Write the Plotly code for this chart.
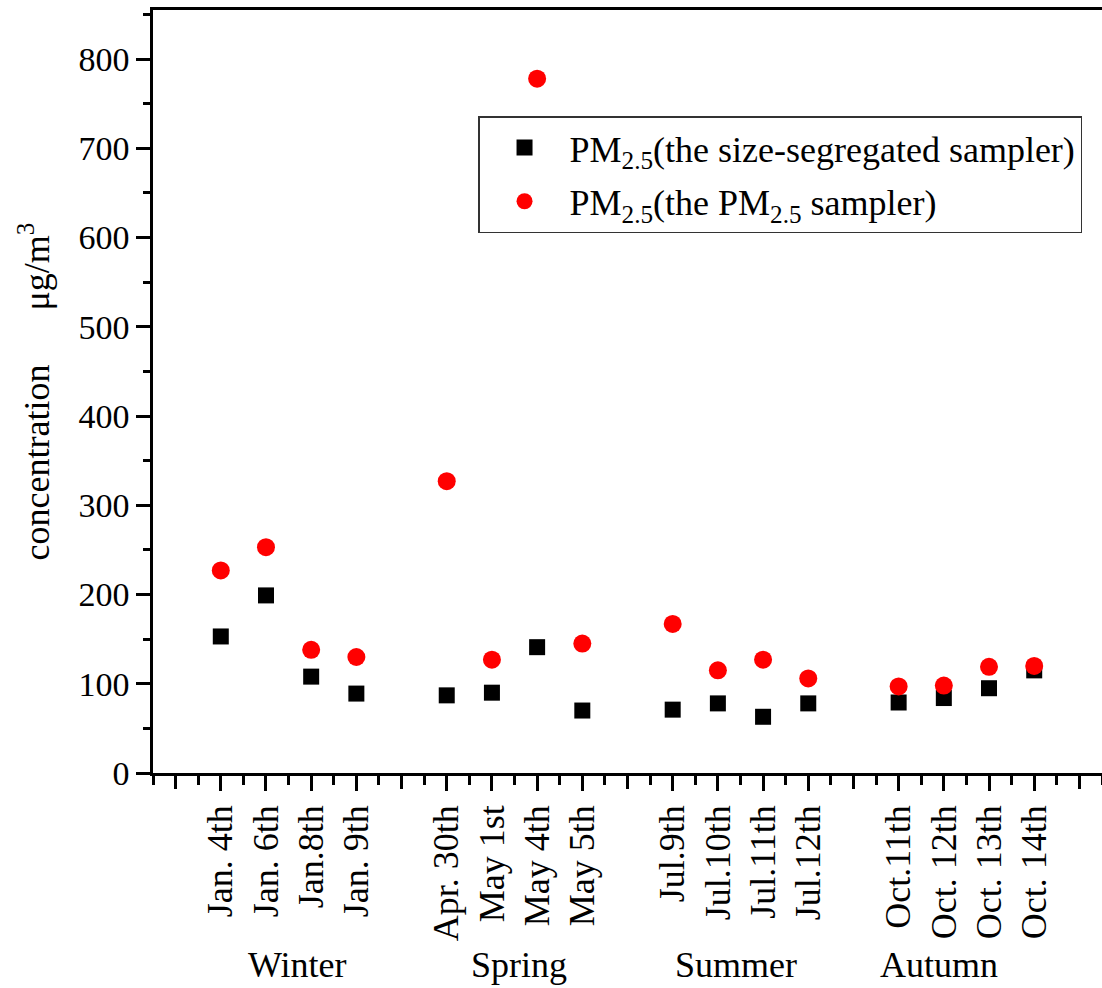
import plotly.graph_objects as go

# ---- data ----
seasons = ["Winter", "Spring", "Summer", "Autumn"]
dates = [
    ["Jan. 4th", "Jan. 6th", "Jan.8th", "Jan. 9th"],
    ["Apr. 30th", "May 1st", "May 4th", "May 5th"],
    ["Jul.9th", "Jul.10th", "Jul.11th", "Jul.12th"],
    ["Oct.11th", "Oct. 12th", "Oct. 13th", "Oct. 14th"],
]
size_segregated = [153, 199, 108, 89, 87, 90, 141, 70, 71, 78, 63, 78, 79, 84, 95, 115]
pm25_sampler = [227, 253, 138, 130, 327, 127, 778, 145, 167, 115, 127, 106, 97, 98, 119, 120]
y_ticks = [0, 100, 200, 300, 400, 500, 600, 700, 800]

# category positions: one empty slot between seasons
labels, xpos, season_centers = [], [], []
pos = 1
for g, grp in enumerate(dates):
    start = pos
    for d in grp:
        labels.append(d)
        xpos.append(pos)
        pos += 1
    season_centers.append((start + pos - 1) / 2)
    pos += 1

all_major = list(range(0, 21))
empty_major = [v for v in all_major if v not in xpos]

FONT = "Liberation Serif"
fig = go.Figure()
fig.add_trace(go.Scatter(
    x=xpos, y=size_segregated, mode="markers",
    name="PM<sub>2.5</sub>(the size-segregated sampler)", legendgroup="a",
    marker=dict(symbol="square", size=16, color="black"),
))
fig.add_trace(go.Scatter(
    x=xpos, y=pm25_sampler, mode="markers",
    name="PM<sub>2.5</sub>(the PM<sub>2.5</sub> sampler)", legendgroup="b",
    marker=dict(symbol="circle", size=18, color="#ff0000"),
))
# helper (empty) trace so the overlay axis with the unlabeled long ticks is drawn
fig.add_trace(go.Scatter(x=[], y=[], xaxis="x2", yaxis="y", showlegend=False,
                         hoverinfo="skip"))

season_offsets = [0.19, 0.1, -0.1, -0.6]
for s, c, o in zip(seasons, season_centers, season_offsets):
    fig.add_annotation(x=c + o, y=-0.2515, xref="x", yref="paper", text=s,
                       showarrow=False, yanchor="middle",
                       font=dict(family=FONT, size=36, color="black"))

fig.update_layout(
    width=1102, height=988,
    margin=dict(l=153, r=0, t=10, b=215),
    paper_bgcolor="white", plot_bgcolor="white",
    font=dict(family=FONT, size=34, color="black"),
    showlegend=True,
    legend=dict(x=0.3425, y=0.861, xanchor="left", yanchor="top",
                bgcolor="white", bordercolor="#333333", borderwidth=1.5,
                font=dict(family=FONT, size=36, color="black"),
                itemwidth=80, traceorder="grouped", tracegroupgap=4),
    xaxis2=dict(overlaying="x", anchor="y", side="bottom", range=[-0.5, 20.5],
                tickmode="array", tickvals=empty_major, showticklabels=False,
                ticks="outside", ticklen=15, tickwidth=2.5, tickcolor="black",
                showline=False, showgrid=False, zeroline=False),
)
fig.layout.xaxis.update(
    range=[-0.5, 20.5], tickmode="array", tickvals=xpos, ticktext=labels,
    tickangle=-90, ticks="outside", ticklen=15, tickwidth=2.5, tickcolor="black",
    showline=True, linewidth=2.5, linecolor="black", mirror=True,
    showgrid=False, zeroline=False,
    tickfont=dict(family=FONT, size=36, color="black"),
    minor=dict(tickmode="linear", tick0=-0.5, dtick=1, ticks="outside",
               ticklen=9, tickwidth=2.5, tickcolor="black", showgrid=False),
)
fig.update_yaxes(
    range=[0, 855], tickmode="array", tickvals=y_ticks,
    ticks="outside", ticklen=14, tickwidth=2.5, tickcolor="black",
    showline=True, linewidth=2.5, linecolor="black", mirror=False,
    showgrid=False, zeroline=False,
    tickfont=dict(family=FONT, size=34, color="black"),
    minor=dict(tickmode="linear", tick0=0, dtick=50, ticks="outside",
               ticklen=7, tickwidth=2.5, tickcolor="black", showgrid=False),
    title=dict(text="concentration\u00a0\u00a0\u00a0\u00a0\u00a0\u00a0μg/m<sup>3</sup>",
               font=dict(family=FONT, size=36, color="black"), standoff=18),
)

fig.write_html("out.html")
